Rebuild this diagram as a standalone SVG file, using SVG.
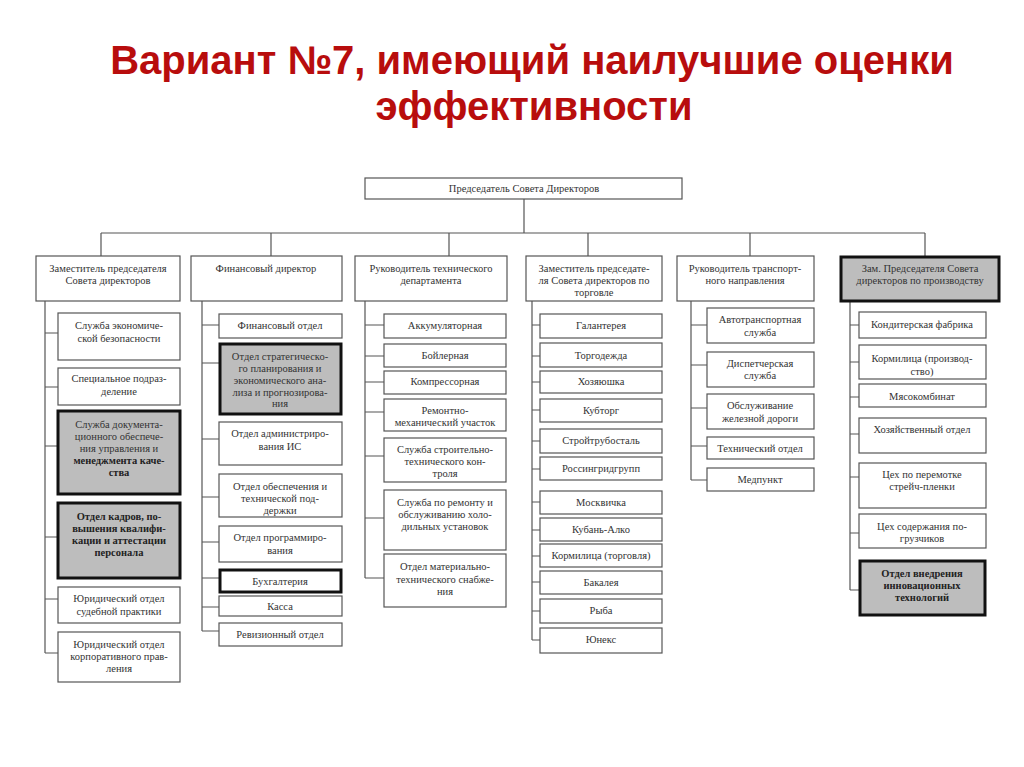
<svg xmlns="http://www.w3.org/2000/svg" width="1024" height="767" viewBox="0 0 1024 767">
<style>
.title{font-family:"Liberation Sans",Arial,sans-serif;font-weight:bold;font-size:40px;fill:#B80D0D;text-anchor:middle}
.b{fill:#fff;stroke:#555;stroke-width:1.2}
.g{fill:#BDBDBD;stroke:#111;stroke-width:3}
.k{fill:#fff;stroke:#111;stroke-width:3}
.t{font-family:"Liberation Serif","Times New Roman",serif;font-size:10.5px;fill:#333;text-anchor:middle}
.bold{font-weight:bold;fill:#222}
.c{stroke:#555;stroke-width:1.2;fill:none}
</style>
<rect width="1024" height="767" fill="#fff"/>
<text class="title" x="532" y="74">Вариант №7, имеющий наилучшие оценки</text>
<text class="title" x="534" y="120">эффективности</text>

<g id="connectors" class="c">
<path d="M524 199V233M101 233H925M101 233V256M271 233V256M449 233V256M588 233V256M750 233V256M925 233V256"/>
<path d="M45 301V653M45 333H58M45 387H58M45 446H58M45 537H58M45 599H58M45 653H58"/>
<path d="M202 301V631M202 325H219M202 363H219M202 439H219M202 497H219M202 542H219M202 578H219M202 607H219M202 631H219"/>
<path d="M365 301V578M365 325H384M365 356H384M365 382H384M365 412H384M365 456H384M365 518H384M365 578H384"/>
<path d="M532 301V640M532 325H540M532 356H540M532 382H540M532 410H540M532 441H540M532 469H540M532 502H540M532 530H540M532 556H540M532 582H540M532 611H540M532 640H540"/>
<path d="M691 301V480M691 325H707M691 365H707M691 408H707M691 446H707M691 480H707"/>
<path d="M850 301V590M850 325H859M850 362H859M850 397H859M850 434H859M850 477H859M850 533H859M850 590H859"/>
</g>

<g id="n-top"><rect class="b" x="365" y="178" width="317" height="21"/><text class="t" x="524" y="192">Председатель Совета Директоров</text></g>

<g id="h1"><rect class="b" x="36" y="256" width="144" height="45"/><text class="t" x="108" y="272">Заместитель председателя</text><text class="t" x="108" y="284">Совета директоров</text></g>
<g id="h2"><rect class="b" x="191" y="256" width="151" height="45"/><text class="t" x="266" y="272">Финансовый директор</text></g>
<g id="h3"><rect class="b" x="355" y="256" width="152" height="45"/><text class="t" x="431" y="272">Руководитель технического</text><text class="t" x="431" y="284">департамента</text></g>
<g id="h4"><rect class="b" x="526" y="256" width="136" height="45"/><text class="t" x="594" y="272">Заместитель председате-</text><text class="t" x="594" y="284">ля Совета директоров по</text><text class="t" x="594" y="296">торговле</text></g>
<g id="h5"><rect class="b" x="677" y="256" width="137" height="45"/><text class="t" x="745" y="272">Руководитель транспорт-</text><text class="t" x="745" y="284">ного направления</text></g>
<g id="h6"><rect class="g" x="841" y="257" width="158" height="44"/><text class="t" x="920" y="272">Зам. Председателя Совета</text><text class="t" x="920" y="284">директоров по производству</text></g>

<g id="c1-1"><rect class="b" x="58" y="313" width="122" height="47"/><text class="t" x="119" y="329">Служба экономиче-</text><text class="t" x="119" y="342">ской безопасности</text></g>
<g id="c1-2"><rect class="b" x="58" y="368" width="122" height="37"/><text class="t" x="119" y="382">Специальное подраз-</text><text class="t" x="119" y="395">деление</text></g>
<g id="c1-3"><rect class="g" x="58" y="411" width="122" height="83"/><text class="t" x="119" y="428">Служба документа-</text><text class="t" x="119" y="440">ционного обеспече-</text><text class="t" x="119" y="452">ния управления и</text><text class="t bold" x="119" y="464">менеджмента каче-</text><text class="t bold" x="119" y="476">ства</text></g>
<g id="c1-4"><rect class="g" x="58" y="503" width="122" height="75"/><text class="t bold" x="119" y="520">Отдел кадров, по-</text><text class="t bold" x="119" y="532">вышения квалифи-</text><text class="t bold" x="119" y="544">кации и аттестации</text><text class="t bold" x="119" y="556">персонала</text></g>
<g id="c1-5"><rect class="b" x="58" y="587" width="122" height="36"/><text class="t" x="119" y="602">Юридический отдел</text><text class="t" x="119" y="615">судебной практики</text></g>
<g id="c1-6"><rect class="b" x="58" y="632" width="122" height="50"/><text class="t" x="119" y="648">Юридический отдел</text><text class="t" x="119" y="660">корпоративного прав-</text><text class="t" x="119" y="672">ления</text></g>

<g id="c2-1"><rect class="b" x="219" y="314" width="123" height="24"/><text class="t" x="280" y="329">Финансовый отдел</text></g>
<g id="c2-2"><rect class="g" x="220" y="344" width="121" height="70"/><text class="t" x="280" y="360">Отдел стратегическо-</text><text class="t" x="280" y="372">го планирования и</text><text class="t" x="280" y="384">экономического ана-</text><text class="t" x="280" y="396">лиза и прогнозирова-</text><text class="t" x="280" y="407">ния</text></g>
<g id="c2-3"><rect class="b" x="219" y="422" width="123" height="43"/><text class="t" x="280" y="437">Отдел администриро-</text><text class="t" x="280" y="450">вания ИС</text></g>
<g id="c2-4"><rect class="b" x="219" y="474" width="123" height="43"/><text class="t" x="280" y="490">Отдел обеспечения и</text><text class="t" x="280" y="502">технической под-</text><text class="t" x="280" y="514">держки</text></g>
<g id="c2-5"><rect class="b" x="219" y="526" width="123" height="36"/><text class="t" x="280" y="541">Отдел программиро-</text><text class="t" x="280" y="554">вания</text></g>
<g id="c2-6"><rect class="k" x="220" y="570" width="121" height="22"/><text class="t" x="280" y="585">Бухгалтерия</text></g>
<g id="c2-7"><rect class="b" x="219" y="596" width="123" height="20"/><text class="t" x="280" y="610">Касса</text></g>
<g id="c2-8"><rect class="b" x="219" y="623" width="123" height="23"/><text class="t" x="280" y="638">Ревизионный отдел</text></g>

<g id="c3-1"><rect class="b" x="384" y="314" width="122" height="24"/><text class="t" x="445" y="329">Аккумуляторная</text></g>
<g id="c3-2"><rect class="b" x="384" y="344" width="122" height="23"/><text class="t" x="445" y="359">Бойлерная</text></g>
<g id="c3-3"><rect class="b" x="384" y="371" width="122" height="23"/><text class="t" x="445" y="385">Компрессорная</text></g>
<g id="c3-4"><rect class="b" x="384" y="399" width="122" height="32"/><text class="t" x="445" y="414">Ремонтно-</text><text class="t" x="445" y="426">механический участок</text></g>
<g id="c3-5"><rect class="b" x="384" y="438" width="122" height="44"/><text class="t" x="445" y="453">Служба строительно-</text><text class="t" x="445" y="465">технического кон-</text><text class="t" x="445" y="477">троля</text></g>
<g id="c3-6"><rect class="b" x="384" y="490" width="122" height="60"/><text class="t" x="445" y="506">Служба по ремонту и</text><text class="t" x="445" y="518">обслуживанию холо-</text><text class="t" x="445" y="530">дильных установок</text></g>
<g id="c3-7"><rect class="b" x="384" y="554" width="122" height="53"/><text class="t" x="445" y="570">Отдел материально-</text><text class="t" x="445" y="583">технического снабже-</text><text class="t" x="445" y="595">ния</text></g>

<g id="c4-1"><rect class="b" x="540" y="314" width="122" height="24"/><text class="t" x="601" y="329">Галантерея</text></g>
<g id="c4-2"><rect class="b" x="540" y="343" width="122" height="24"/><text class="t" x="601" y="359">Торгодежда</text></g>
<g id="c4-3"><rect class="b" x="540" y="371" width="122" height="22"/><text class="t" x="601" y="385">Хозяюшка</text></g>
<g id="c4-4"><rect class="b" x="540" y="399" width="122" height="23"/><text class="t" x="601" y="414">Кубторг</text></g>
<g id="c4-5"><rect class="b" x="540" y="429" width="122" height="24"/><text class="t" x="601" y="444">Стройтрубосталь</text></g>
<g id="c4-6"><rect class="b" x="540" y="457" width="122" height="23"/><text class="t" x="601" y="472">Россингридгрупп</text></g>
<g id="c4-7"><rect class="b" x="540" y="491" width="122" height="23"/><text class="t" x="601" y="506">Москвичка</text></g>
<g id="c4-8"><rect class="b" x="540" y="518" width="122" height="23"/><text class="t" x="601" y="533">Кубань-Алко</text></g>
<g id="c4-9"><rect class="b" x="540" y="544" width="122" height="23"/><text class="t" x="601" y="559">Кормилица (торговля)</text></g>
<g id="c4-10"><rect class="b" x="540" y="571" width="122" height="23"/><text class="t" x="601" y="586">Бакалея</text></g>
<g id="c4-11"><rect class="b" x="540" y="599" width="122" height="24"/><text class="t" x="601" y="614">Рыба</text></g>
<g id="c4-12"><rect class="b" x="540" y="628" width="122" height="25"/><text class="t" x="601" y="643">Юнекс</text></g>

<g id="c5-1"><rect class="b" x="707" y="308" width="107" height="35"/><text class="t" x="760" y="323">Автотранспортная</text><text class="t" x="760" y="336">служба</text></g>
<g id="c5-2"><rect class="b" x="707" y="352" width="107" height="35"/><text class="t" x="760" y="367">Диспетчерская</text><text class="t" x="760" y="379">служба</text></g>
<g id="c5-3"><rect class="b" x="707" y="394" width="107" height="35"/><text class="t" x="760" y="409">Обслуживание</text><text class="t" x="760" y="422">железной дороги</text></g>
<g id="c5-4"><rect class="b" x="707" y="437" width="107" height="22"/><text class="t" x="760" y="452">Технический отдел</text></g>
<g id="c5-5"><rect class="b" x="707" y="468" width="107" height="23"/><text class="t" x="760" y="483">Медпункт</text></g>

<g id="c6-1"><rect class="b" x="859" y="312" width="127" height="26"/><text class="t" x="922" y="328">Кондитерская фабрика</text></g>
<g id="c6-2"><rect class="b" x="859" y="345" width="127" height="34"/><text class="t" x="922" y="362">Кормилица (производ-</text><text class="t" x="922" y="375">ство)</text></g>
<g id="c6-3"><rect class="b" x="859" y="384" width="127" height="23"/><text class="t" x="922" y="400">Мясокомбинат</text></g>
<g id="c6-4"><rect class="b" x="859" y="418" width="127" height="35"/><text class="t" x="922" y="433">Хозяйственный отдел</text></g>
<g id="c6-5"><rect class="b" x="859" y="463" width="127" height="45"/><text class="t" x="922" y="478">Цех по перемотке</text><text class="t" x="922" y="490">стрейч-пленки</text></g>
<g id="c6-6"><rect class="b" x="859" y="514" width="127" height="34"/><text class="t" x="922" y="530">Цех содержания по-</text><text class="t" x="922" y="542">грузчиков</text></g>
<g id="c6-7"><rect class="g" x="860" y="561" width="125" height="54"/><text class="t bold" x="922" y="577">Отдел внедрения</text><text class="t bold" x="922" y="589">инновационных</text><text class="t bold" x="922" y="601">технологий</text></g>
</svg>
